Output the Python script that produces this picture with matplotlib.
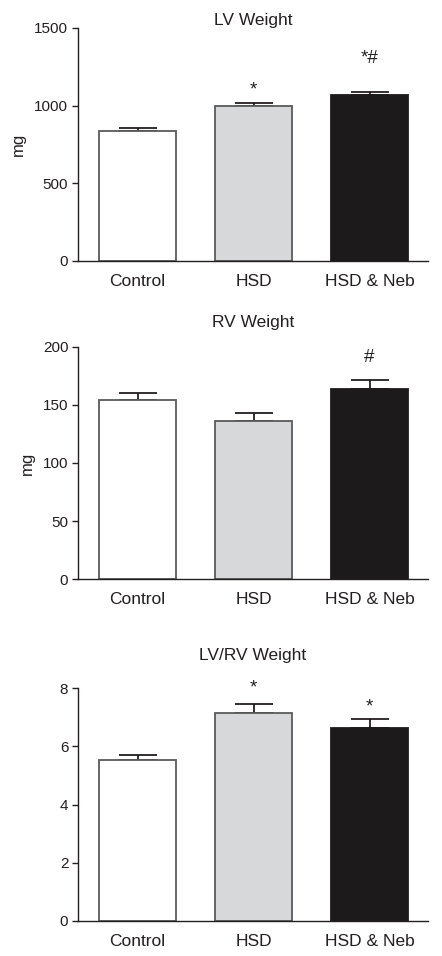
import matplotlib
matplotlib.use("Agg")
import matplotlib.pyplot as plt

plt.rcParams['font.family'] = ['Liberation Sans', 'DejaVu Sans']

groups = ["Control", "HSD", "HSD & Neb"]
lv_mean = [840, 995, 1070]
lv_err = [15, 22, 18]
rv_mean = [154, 136, 164]
rv_err = [6, 7, 7]
ratio_mean = [5.52, 7.15, 6.64]
ratio_err = [0.18, 0.31, 0.30]

lv_marks = ["", "*", "*#"]
rv_marks = ["", "", "#"]
ratio_marks = ["", "*", "*"]

fills = ["#ffffff", "#d7d8da", "#1c1a1b"]
edges = ["#5a5a5a", "#5a5a5a", "#1c1a1b"]
txt = "#231f20"

fig = plt.figure(figsize=(4.42, 9.56), dpi=100)

panels = [
    dict(title="LV Weight", mean=lv_mean, err=lv_err, marks=lv_marks, ylim=(0, 1500),
         ticks=[0, 500, 1000, 1500], ylabel="mg", rect=[78/442, 1-261/956, 350/442, 233/956],
         offs=[0, 13, 33], tpad=1.5),
    dict(title="RV Weight", mean=rv_mean, err=rv_err, marks=rv_marks, ylim=(0, 200),
         ticks=[0, 50, 100, 150, 200], ylabel="mg", rect=[78/442, 1-579.3/956, 350/442, 232.6/956],
         offs=[0, 0, 23], tpad=14.5),
    dict(title="LV/RV Weight", mean=ratio_mean, err=ratio_err, marks=ratio_marks, ylim=(0, 8),
         ticks=[0, 2, 4, 6, 8], ylabel="", rect=[78/442, 1-921/956, 350/442, 233/956],
         offs=[0, 16, 12], tpad=20.5),
]

x = list(range(len(groups)))
for p in panels:
    ax = fig.add_axes(p["rect"])
    ax.bar(x, p["mean"], width=0.665, color=fills, edgecolor=edges, linewidth=1.3, zorder=2)
    ax.errorbar(x, p["mean"], yerr=[[0]*3, p["err"]], fmt="none", ecolor=txt,
                elinewidth=1.3, capsize=14, capthick=1.3, zorder=1)
    for xi, m, e, mk, o in zip(x, p["mean"], p["err"], p["marks"], p["offs"]):
        if mk:
            ax.annotate(mk, (xi, m + e), xytext=(0, o), textcoords="offset pixels",
                        ha="center", va="center", fontsize=13.5, color=txt)
    ax.set_xlim(-0.513, 2.504)
    ax.set_ylim(*p["ylim"])
    ax.set_yticks(p["ticks"])
    ax.set_xticks(x)
    ax.set_xticklabels(groups, fontsize=12.5, color=txt)
    ax.tick_params(axis="x", length=0, pad=9)
    ax.tick_params(axis="y", length=4, width=1, pad=3, labelsize=11, colors=txt)
    for s in ["top", "right"]:
        ax.spines[s].set_visible(False)
    for s in ["left", "bottom"]:
        ax.spines[s].set_color(txt)
        ax.spines[s].set_linewidth(1)
    ax.set_title(p["title"], fontsize=12.5, color=txt, pad=p["tpad"])
    if p["ylabel"]:
        ax.set_ylabel(p["ylabel"], fontsize=12, color=txt, labelpad=6)

fig.savefig("out.png", dpi=100)
